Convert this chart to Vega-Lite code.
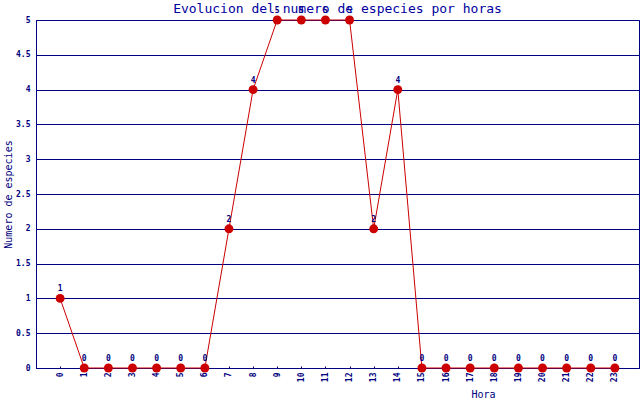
{
  "$schema": "https://vega.github.io/schema/vega-lite/v6.json",
  "autosize": {"type": "none"},
  "padding": {"left": 36, "top": 20, "right": 1, "bottom": 32},
  "width": 603,
  "height": 348,
  "background": "#ffffff",
  "config": {
    "view": {"stroke": "#000080", "strokeWidth": 1},
    "font": "DejaVu Sans Mono"
  },
  "title": {
    "text": "Evolucion del numero de especies por horas",
    "font": "DejaVu Sans Mono",
    "fontSize": 13,
    "fontWeight": "normal",
    "color": "#0000a0",
    "anchor": "middle",
    "frame": "group",
    "offset": 0,
    "dy": 9
  },
  "data": {
    "values": [
      {"hora": 0, "especies": 1},
      {"hora": 1, "especies": 0},
      {"hora": 2, "especies": 0},
      {"hora": 3, "especies": 0},
      {"hora": 4, "especies": 0},
      {"hora": 5, "especies": 0},
      {"hora": 6, "especies": 0},
      {"hora": 7, "especies": 2},
      {"hora": 8, "especies": 4},
      {"hora": 9, "especies": 5},
      {"hora": 10, "especies": 5},
      {"hora": 11, "especies": 5},
      {"hora": 12, "especies": 5},
      {"hora": 13, "especies": 2},
      {"hora": 14, "especies": 4},
      {"hora": 15, "especies": 0},
      {"hora": 16, "especies": 0},
      {"hora": 17, "especies": 0},
      {"hora": 18, "especies": 0},
      {"hora": 19, "especies": 0},
      {"hora": 20, "especies": 0},
      {"hora": 21, "especies": 0},
      {"hora": 22, "especies": 0},
      {"hora": 23, "especies": 0}
    ]
  },
  "encoding": {
    "x": {
      "field": "hora",
      "type": "quantitative",
      "scale": {"domain": [-1, 24], "nice": false, "zero": false},
      "axis": {
        "values": [0,1,2,3,4,5,6,7,8,9,10,11,12,13,14,15,16,17,18,19,20,21,22,23],
        "labelAngle": 270,
        "labelFont": "DejaVu Sans Mono",
        "labelFontSize": 8,
        "labelFontWeight": "bold",
        "labelColor": "#000080",
        "labelPadding": 6,
        "grid": false,
        "domainColor": "#000080",
        "ticks": true,
        "tickSize": -2,
        "tickColor": "#000080",
        "title": "Hora",
        "titleFont": "DejaVu Sans Mono",
        "titleFontSize": 10,
        "titleFontWeight": "normal",
        "titleColor": "#000080",
        "titleX": 447,
        "titleY": 26,
        "titleAlign": "center",
        "titleBaseline": "middle"
      }
    },
    "y": {
      "field": "especies",
      "type": "quantitative",
      "scale": {"domain": [0, 5], "nice": false},
      "axis": {
        "values": [0, 0.5, 1, 1.5, 2, 2.5, 3, 3.5, 4, 4.5, 5],
        "format": "~g",
        "labelFont": "DejaVu Sans Mono",
        "labelFontSize": 8,
        "labelFontWeight": "bold",
        "labelColor": "#000080",
        "labelPadding": 6,
        "ticks": false,
        "grid": true,
        "gridColor": "#000080",
        "gridOpacity": 1,
        "gridWidth": 1,
        "domainColor": "#000080",
        "title": "Numero de especies",
        "titleFont": "DejaVu Sans Mono",
        "titleFontSize": 10,
        "titleFontWeight": "normal",
        "titleColor": "#000080",
        "titleX": -28,
        "titleY": 174,
        "titleAngle": 270,
        "titleAlign": "center",
        "titleBaseline": "middle"
      }
    }
  },
  "layer": [
    {
      "mark": {"type": "line", "color": "#cc0000", "strokeWidth": 1}
    },
    {
      "mark": {"type": "point", "filled": true, "color": "#cc0000", "size": 80, "opacity": 1}
    },
    {
      "mark": {"type": "text", "dy": -9, "fontSize": 8, "fontWeight": "bold", "font": "DejaVu Sans Mono", "color": "#000080"},
      "encoding": {"text": {"field": "especies", "type": "quantitative"}}
    }
  ]
}
